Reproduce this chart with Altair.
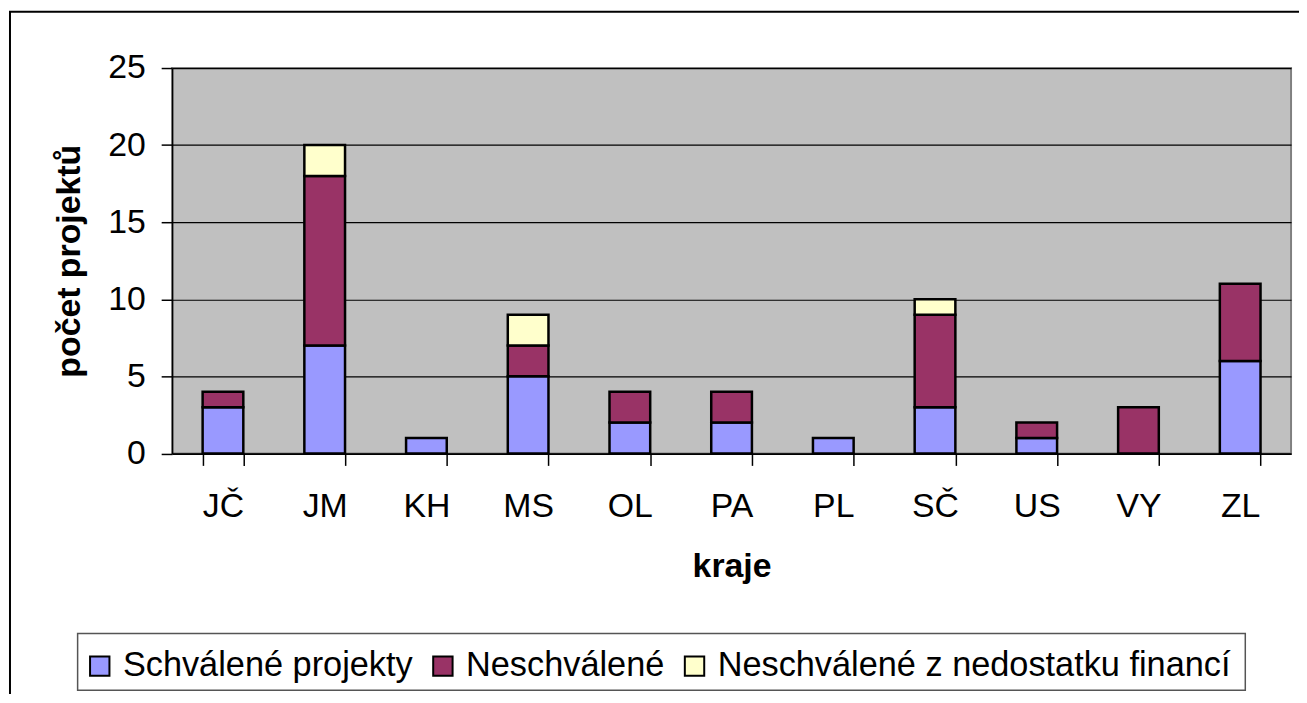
import altair as alt
import pandas as pd

kraje = ["JČ", "JM", "KH", "MS", "OL", "PA", "PL", "SČ", "US", "VY", "ZL"]
schvalene = [3, 7, 1, 5, 2, 2, 1, 3, 1, 0, 6]
neschvalene = [1, 11, 0, 2, 2, 2, 0, 6, 1, 3, 5]
nedostatek = [0, 2, 0, 2, 0, 0, 0, 1, 0, 0, 0]
series = ["Schválené projekty", "Neschválené", "Neschválené z nedostatku financí"]
colors = ["#9999FF", "#993366", "#FFFFCC"]

rows = []
for i, k in enumerate(kraje):
    for j, (name, vals) in enumerate(zip(series, [schvalene, neschvalene, nedostatek])):
        if vals[i] > 0:
            rows.append({"kraj": k, "serie": name, "pocet": vals[i], "poradi": j})
df = pd.DataFrame(rows)

FONT = "Liberation Sans"
W, H = 1125, 387.5

one = pd.DataFrame({"a": [0]})

frame = alt.Chart(one).mark_rect(
    filled=False, stroke="black", strokeWidth=2
).encode(
    x=alt.value(-163), x2=alt.value(1160),
    y=alt.value(-56.5), y2=alt.value(700),
)

legend_box = alt.Chart(one).mark_rect(
    fill="white", stroke="#555555", strokeWidth=1.5
).encode(
    x=alt.value(-95), x2=alt.value(1079),
    y=alt.value(568.5), y2=alt.value(625.5),
)

bars = alt.Chart(df).mark_bar(stroke="black", strokeWidth=2.5, opacity=1).encode(
    x=alt.X("kraj:N", sort=kraje,
            scale=alt.Scale(paddingInner=0.6, paddingOuter=0.3),
            axis=alt.Axis(title="kraje", labelAngle=0, tickBand="extent",
                          tickSize=12, tickColor="black", domainColor="black",
                          domainWidth=1.5, tickWidth=1.5,
                          labelFont=FONT, labelFontSize=34, labelColor="black",
                          labelBaseline="alphabetic", labelPadding=51,
                          titleFont=FONT, titleFontSize=34, titleFontWeight="bold",
                          titleColor="black", titleBaseline="alphabetic",
                          titleX=W / 2, titleY=124, titleAlign="center")),
    y=alt.Y("pocet:Q", stack="zero",
            scale=alt.Scale(domain=[0, 25], nice=False),
            axis=alt.Axis(title="počet projektů", values=[0, 5, 10, 15, 20, 25],
                          tickSize=11, tickColor="black", domainColor="black",
                          domainWidth=1.5, tickWidth=1.5,
                          grid=True, gridColor="black", gridWidth=1.2,
                          labelFont=FONT, labelFontSize=34, labelColor="black",
                          labelPadding=16,
                          titleFont=FONT, titleFontSize=34, titleFontWeight="bold",
                          titleColor="black", titleAngle=-90,
                          titleBaseline="alphabetic", titleAlign="center",
                          titleX=-93, titleY=H / 2)),
    color=alt.Color("serie:N", sort=series,
                    scale=alt.Scale(domain=series, range=colors),
                    legend=alt.Legend(title=None, orient="none",
                                      legendX=-90, legendY=584,
                                      direction="horizontal", columns=3,
                                      symbolType="square", symbolSize=380,
                                      symbolStrokeColor="black", symbolStrokeWidth=2,
                                      symbolOpacity=1,
                                      labelFont=FONT, labelFontSize=34.5,
                                      labelColor="black", labelLimit=2000,
                                      labelOffset=6, columnPadding=13,
                                      padding=0)),
    order=alt.Order("poradi:Q", sort="ascending"),
)

chart = alt.layer(frame, legend_box, bars).properties(
    width=W, height=H,
    background="white",
    autosize=alt.AutoSizeParams(type="none"),
    padding={"left": 165, "top": 58.5, "right": 8, "bottom": 240},
).configure_view(
    fill="#C0C0C0", stroke="#808080", strokeWidth=2
)

chart.save("out.html", embed_options={"renderer": "svg", "actions": False})
